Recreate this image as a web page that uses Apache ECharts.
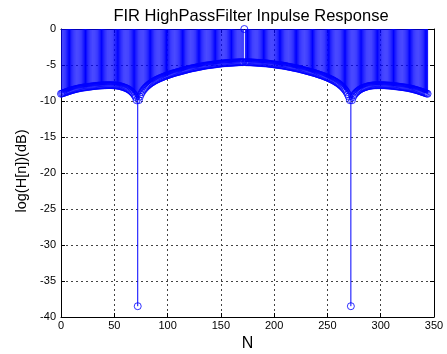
<!DOCTYPE html>
<html>
<head>
<meta charset="utf-8">
<title>FIR HighPassFilter Inpulse Response</title>
<script src="https://cdn.jsdelivr.net/npm/echarts@6/dist/echarts.min.js"></script>
<style>
    html, body {margin: 0; padding: 0; background: #fff;}
    #chart {width: 447px; height: 354px;}
</style>
</head>
<body>
<div id="chart"></div>
<script>
"use strict";
/**刻度**/
var xTicks = [0, 50, 100, 150, 200, 250, 300, 350];
var yTicks = [-40, -35, -30, -25, -20, -15, -10, -5, 0];
var nStart = 0;
/**每个采样点的 dB 值 (N = 0..344)**/
var stemValues = [
    -9.00, -8.95, -8.90, -8.85, -8.80, -8.75, -8.70, -8.65, -8.60, -8.55,
    -8.50, -8.46, -8.42, -8.38, -8.34, -8.30, -8.27, -8.24, -8.21, -8.18,
    -8.15, -8.13, -8.11, -8.09, -8.07, -8.05, -8.03, -8.01, -7.99, -7.97,
    -7.95, -7.93, -7.92, -7.90, -7.89, -7.87, -7.86, -7.85, -7.84, -7.83,
    -7.82, -7.81, -7.81, -7.80, -7.80, -7.80, -7.80, -7.80, -7.81, -7.81,
    -7.82, -7.83, -7.85, -7.87, -7.89, -7.92, -7.96, -8.00, -8.05, -8.10,
    -8.15, -8.21, -8.28, -8.36, -8.45, -8.56, -8.68, -8.82, -8.98, -9.18,
    -9.45, -9.90, -38.50, -9.88, -9.40, -9.05, -8.78, -8.55, -8.36, -8.19,
    -8.04, -7.90, -7.78, -7.66, -7.55, -7.45, -7.36, -7.27, -7.18, -7.10,
    -7.03, -6.96, -6.89, -6.82, -6.76, -6.70, -6.64, -6.58, -6.52, -6.47,
    -6.42, -6.37, -6.32, -6.27, -6.22, -6.17, -6.12, -6.08, -6.04, -6.00,
    -5.96, -5.92, -5.88, -5.84, -5.80, -5.76, -5.72, -5.68, -5.64, -5.60,
    -5.56, -5.52, -5.49, -5.46, -5.43, -5.40, -5.37, -5.34, -5.31, -5.28,
    -5.25, -5.22, -5.19, -5.16, -5.13, -5.10, -5.08, -5.06, -5.04, -5.02,
    -5.00, -4.98, -4.96, -4.94, -4.92, -4.90, -4.88, -4.86, -4.84, -4.82,
    -4.80, -4.78, -4.77, -4.76, -4.75, -4.74, -4.73, -4.72, -4.71, -4.70,
    -4.69, -4.68, -4.67, -4.66, -4.65, -4.64, -4.63, -4.62, -4.62, -4.61,
    -4.61, -4.60, 0.00, -4.60, -4.61, -4.61, -4.62, -4.62, -4.63, -4.64,
    -4.65, -4.66, -4.67, -4.68, -4.69, -4.70, -4.71, -4.72, -4.73, -4.74,
    -4.75, -4.76, -4.77, -4.78, -4.80, -4.82, -4.84, -4.86, -4.88, -4.90,
    -4.92, -4.94, -4.96, -4.98, -5.00, -5.02, -5.04, -5.06, -5.08, -5.10,
    -5.13, -5.16, -5.19, -5.22, -5.25, -5.28, -5.31, -5.34, -5.37, -5.40,
    -5.43, -5.46, -5.49, -5.52, -5.56, -5.60, -5.64, -5.68, -5.72, -5.76,
    -5.80, -5.84, -5.88, -5.92, -5.96, -6.00, -6.04, -6.08, -6.12, -6.17,
    -6.22, -6.27, -6.32, -6.37, -6.42, -6.47, -6.52, -6.58, -6.64, -6.70,
    -6.76, -6.82, -6.89, -6.96, -7.03, -7.10, -7.18, -7.27, -7.36, -7.45,
    -7.55, -7.66, -7.78, -7.90, -8.04, -8.19, -8.36, -8.55, -8.78, -9.05,
    -9.40, -9.88, -38.50, -9.90, -9.45, -9.18, -8.98, -8.82, -8.68, -8.56,
    -8.45, -8.36, -8.28, -8.21, -8.15, -8.10, -8.05, -8.00, -7.96, -7.92,
    -7.89, -7.87, -7.85, -7.83, -7.82, -7.81, -7.81, -7.80, -7.80, -7.80,
    -7.80, -7.80, -7.81, -7.81, -7.82, -7.83, -7.84, -7.85, -7.86, -7.87,
    -7.89, -7.90, -7.92, -7.93, -7.95, -7.97, -7.99, -8.01, -8.03, -8.05,
    -8.07, -8.09, -8.11, -8.13, -8.15, -8.18, -8.21, -8.24, -8.27, -8.30,
    -8.34, -8.38, -8.42, -8.46, -8.50, -8.55, -8.60, -8.65, -8.70, -8.75,
    -8.80, -8.85, -8.90, -8.95, -9.00
];

var stemColor = '#0000ff';
var fontName = '"Liberation Sans", Arial, sans-serif';

var points = stemValues.map(function (v, i) {
    return [nStart + i, v];
});

function axisBase(pos, ticks, showLabel, labelMargin) {
    return {
        type: 'value',
        position: pos,
        min: ticks[0],
        max: ticks[ticks.length - 1],
        interval: ticks[1] - ticks[0],
        axisLine: {show: true, onZero: false, lineStyle: {color: '#000', width: 1}},
        axisTick: {show: true, inside: true, length: 4, lineStyle: {color: '#000'}},
        axisLabel: {show: showLabel, color: '#000', fontSize: 11, fontFamily: fontName, margin: labelMargin},
        splitLine: {show: false}
    };
}

var gridLine = {show: true, lineStyle: {color: '#444', width: 1, type: [2, 3]}};

var xMain = axisBase('bottom', xTicks, true, 3);
xMain.splitLine = gridLine;
xMain.name = 'N';
xMain.nameLocation = 'middle';
xMain.nameGap = 16;
xMain.nameTextStyle = {color: '#000', fontSize: 16, fontFamily: fontName};

var yMain = axisBase('left', yTicks, true, 5);
yMain.splitLine = gridLine;
yMain.name = 'log(H[n])(dB)';
yMain.nameLocation = 'middle';
yMain.nameRotate = 90;
yMain.nameGap = 26;
yMain.nameTextStyle = {color: '#000', fontSize: 14.5, fontFamily: fontName, padding: [0, 0, 0, 4]};

var chart = echarts.init(document.getElementById('chart'), null, {renderer: 'canvas'});
chart.setOption({
    animation: false,
    backgroundColor: '#fff',
    title: {
        text: 'FIR HighPassFilter Inpulse Response',
        left: 246,
        top: 3,
        textAlign: 'center',
        textStyle: {color: '#000', fontSize: 16.5, fontWeight: 'normal', fontFamily: fontName}
    },
    grid: {left: 61, right: 13, top: 29, bottom: 37, outerBoundsMode: 'none'},
    xAxis: [xMain, axisBase('top', xTicks, false, 3)],
    yAxis: [yMain, axisBase('right', yTicks, false, 5)],
    series: [{
        // 茎线: 从 0 画到数值
        type: 'custom',
        clip: true,
        data: points,
        encode: {x: 0, y: 1},
        renderItem: function (params, api) {
            var from = api.coord([api.value(0), 0]);
            var to = api.coord([api.value(0), api.value(1)]);
            return {
                type: 'line',
                shape: {x1: from[0], y1: from[1], x2: to[0], y2: to[1]},
                style: {stroke: stemColor, lineWidth: 1}
            };
        }
    }, {
        // 空心圆标记
        type: 'scatter',
        data: points,
        symbol: 'circle',
        symbolSize: 7,
        itemStyle: {color: 'transparent', borderColor: stemColor, borderWidth: 1},
        emphasis: {disabled: true}
    }]
});
</script>
</body>
</html>
